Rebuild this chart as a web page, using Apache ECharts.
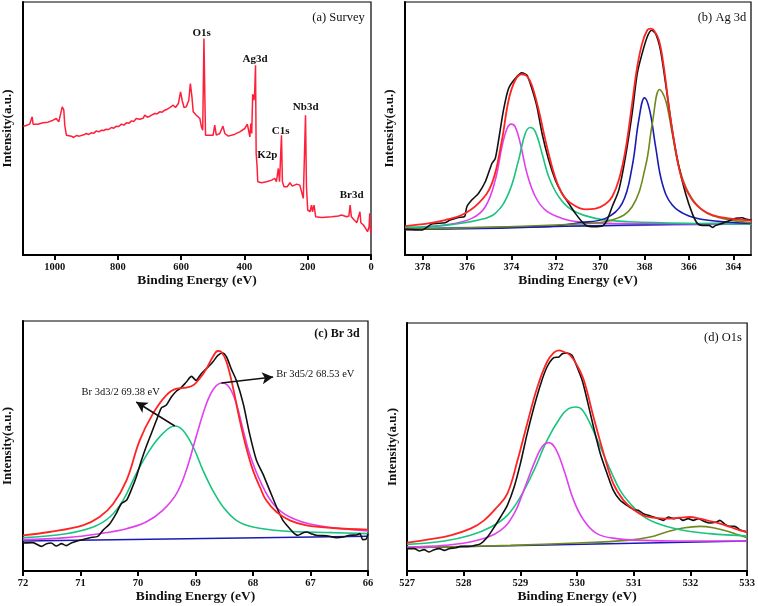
<!DOCTYPE html>
<html>
<head>
<meta charset="utf-8">
<script src="https://cdn.jsdelivr.net/npm/echarts@6/dist/echarts.min.js"></script>
<style>html,body{margin:0;padding:0;background:#fff;}#c{width:758px;height:606px;}</style>
</head>
<body>
<div id="c"></div>
<script>
// ---------- (a) Survey ----------
const surveyTicks = [0, 200, 400, 600, 800, 1000];
const surveyData = [
[1099,387],[1090,389],[1079,393],[1074,395],[1071,415],[1068,393],[1053,393],[1037,397],[1021,399],[1005,405],
[995,410],[987,400],[981,405],[976,445],[971,435],[968,390],[963,360],[958,355],[947,357],[940,353],[931,359],[922,357],[916,363],
[908,361],[900,365],[892,362],[884,367],[876,366],[868,373],[860,370],[852,375],[845,374],[837,378],[829,377],[821,383],[813,381],[805,387],[797,386],[789,393],
[781,390],[773,397],[765,396],[757,403],[750,401],[742,410],[736,415],[731,408],[726,413],[720,411],[715,420],[707,414],[699,417],[692,421],[684,425],[676,424],[668,430],
[660,429],[652,435],[644,438],[636,443],[630,441],[625,450],[618,443],[609,455],[602,490],[597,465],[591,443],[584,445],[576,465],
[571,515],[566,475],[562,430],[552,420],[541,410],[536,385],[532,375],[528,650],[525,465],[523,360],[510,360],[499,360],
[494,390],[489,360],[478,365],[468,387],[462,365],[451,357],[430,363],[415,370],[399,380],[391,393],[386,370],[383,355],
[380,395],[377,365],[374,483],[370,465],[368,480],[365,570],[363,305],[360,265],[358,220],[346,217],[330,220],[314,225],
[304,230],[299,220],[293,260],[289,220],[286,220],[283,360],[280,220],[275,205],[265,205],[256,217],[249,207],[235,213],
[225,210],[219,215],[214,170],[211,165],[207,420],[204,205],[200,135],[193,130],[188,150],[185,130],[180,150],[175,115],
[156,113],[124,115],[103,117],[93,120],[77,115],[70,117],[66,150],[62,115],[53,105],[45,97],[40,100],[35,130],[32,97],
[24,90],[17,80],[11,70],[6,85],[4,125],[2,75],[0,65]
];
const surveyPeaks = [
  ['O1s', 201.7, 32.7], ['Ag3d', 255, 59.3], ['Nb3d', 305.7, 107.3],
  ['C1s', 280.7, 131], ['K2p', 267.3, 155.3], ['Br3d', 351.7, 195]
];

// ---------- (b) Ag 3d ----------
const agTicks = [364, 366, 368, 370, 372, 374, 376, 378];
const agRaw = [
[378.80,77],[378.05,75],[377.59,93],[376.99,97],[376.77,105],[376.39,113],[376.12,115],[376.01,145],[375.79,165],[375.49,185],
[375.18,220],[374.88,275],[374.73,290],[374.58,345],[374.36,435],[374.13,500],[373.83,530],[373.53,547],[373.30,540],[373.08,500],
[372.85,445],[372.62,365],[372.32,285],[372.02,225],[371.72,185],[371.42,155],[371.12,125],[370.82,100],[370.59,87],[370.29,85],
[369.91,87],[369.69,105],[369.46,145],[369.16,195],[368.86,295],[368.56,425],[368.33,545],[368.11,605],[367.88,655],[367.68,675],
[367.50,665],[367.28,615],[367.05,515],[366.75,375],[366.45,265],[366.15,185],[365.85,125],[365.62,95],[365.39,89],[365.09,89],
[364.94,83],[364.79,89],[364.49,95],[364.19,103],[363.89,110],[363.59,112],[363.44,108],[363.17,105]
];
const agFit = [
[378.80,87],[377.74,95],[376.99,105],[376.24,120],[375.49,155],[374.88,215],[374.43,345],[374.13,465],[373.83,525],[373.53,543],
[373.30,537],[373.08,510],[372.77,435],[372.47,345],[372.17,265],[371.87,205],[371.57,170],[371.12,147],[370.67,137],[370.21,139],
[369.76,153],[369.46,175],[369.16,225],[368.86,315],[368.56,455],[368.33,565],[368.11,635],[367.88,675],[367.73,680],[367.58,675],
[367.35,645],[367.13,565],[366.90,445],[366.60,315],[366.30,225],[365.85,165],[365.39,135],[364.94,120],[364.19,110],[363.17,103]
];
const agPeakA = [ // magenta 374.1
[378.80,80],[376.99,90],[375.79,110],[375.18,145],[374.73,225],[374.43,325],[374.20,380],[374.01,393],[373.83,385],[373.60,335],
[373.30,245],[372.92,175],[372.47,135],[371.72,110],[370.97,100],[369.46,95],[363.17,93]
];
const agPeakB = [ // green 373.2
[378.80,83],[376.99,89],[375.49,105],[374.73,125],[374.13,185],[373.68,285],[373.38,365],[373.15,383],[372.92,370],[372.62,305],
[372.32,235],[371.87,175],[371.27,135],[370.21,110],[368.71,100],[363.17,93]
];
const agPeakC = [ // blue 368.0
[378.80,77],[372.47,85],[370.97,97],[369.76,110],[369.01,155],[368.56,265],[368.26,405],[368.00,472],[367.77,435],[367.50,325],
[367.20,215],[366.75,150],[366.00,117],[364.94,103],[363.17,95]
];
const agPeakD = [ // olive 367.3
[378.80,77],[370.97,93],[369.46,105],[368.56,145],[367.96,265],[367.65,395],[367.32,497],[367.05,465],[366.75,365],[366.45,265],
[366.00,185],[365.39,135],[364.49,110],[363.17,97]
];
const agBase = [[378.80,77],[363.17,97]];
const agBase2 = [[378.80,80],[363.17,93]];

// ---------- (c) Br 3d ----------
const brTicks = [66, 67, 68, 69, 70, 71, 72];
const brRaw = [
[72.00,84],[71.83,85],[71.68,74],[71.59,82],[71.51,84],[71.42,75],[71.33,82],[71.25,76],[71.16,84],[71.01,92],
[70.84,100],[70.70,104],[70.61,122],[70.49,142],[70.38,172],[70.29,202],[70.20,212],[70.12,242],[70.03,282],[69.94,332],
[69.86,372],[69.77,412],[69.68,452],[69.59,490],[69.51,497],[69.42,522],[69.33,540],[69.25,550],[69.16,567],[69.07,584],
[68.99,572],[68.90,592],[68.81,607],[68.70,627],[68.61,647],[68.53,654],[68.46,642],[68.38,607],[68.29,572],[68.17,502],
[68.06,412],[67.94,332],[67.83,292],[67.71,242],[67.59,192],[67.48,152],[67.36,127],[67.28,112],[67.22,107],[67.16,112],
[67.07,117],[66.99,112],[66.90,107],[66.78,106],[66.67,104],[66.55,100],[66.43,102],[66.32,107],[66.20,108],[66.14,112],
[66.09,94],[66.03,96],[66.00,112]
];
const brFit = [
[72.00,107],[71.54,117],[70.96,137],[70.67,162],[70.43,202],[70.20,272],[69.97,392],[69.74,472],[69.51,527],[69.33,547],
[69.16,550],[69.04,557],[68.93,577],[68.81,607],[68.70,642],[68.61,660],[68.55,657],[68.46,627],[68.35,552],[68.23,452],
[68.12,372],[68.00,302],[67.88,252],[67.77,212],[67.59,177],[67.36,152],[67.07,137],[66.61,129],[66.00,124]
];
const br32 = [ // green 69.38
[72.00,100],[71.25,112],[70.78,132],[70.49,162],[70.26,212],[70.03,292],[69.80,362],[69.57,412],[69.36,435],[69.22,422],
[69.04,372],[68.87,302],[68.70,242],[68.52,192],[68.29,152],[68.00,132],[67.48,120],[66.61,115],[66.00,112]
];
const br52 = [ // magenta 68.53
[72.00,94],[71.25,100],[70.67,112],[70.20,127],[69.86,147],[69.57,182],[69.33,232],[69.16,302],[68.99,402],[68.81,502],
[68.67,550],[68.53,564],[68.41,550],[68.29,502],[68.17,422],[68.06,352],[67.88,272],[67.65,202],[67.36,162],[66.90,137],[66.00,120]
];
const brBase = [[72.00,90],[66.00,104]];
const brArrows = [
  {from: [69.36, 435], to: [70.03, 507]},
  {from: [68.55, 564], to: [67.65, 582]}
];

// ---------- (d) O1s ----------
const oTicks = [527, 528, 529, 530, 531, 532, 533];
const oRaw = [
[527.00,67],[527.13,67],[527.22,60],[527.30,64],[527.39,57],[527.48,64],[527.57,67],[527.66,62],[527.74,67],[527.86,70],
[527.95,74],[528.07,74],[528.18,76],[528.30,82],[528.42,102],[528.54,132],[528.65,162],[528.77,197],[528.89,252],[529.00,322],
[529.12,412],[529.24,492],[529.36,562],[529.47,612],[529.59,640],[529.68,642],[529.74,652],[529.82,654],[529.91,647],[530.00,612],
[530.09,572],[530.18,512],[530.29,432],[530.41,352],[530.53,292],[530.64,242],[530.76,212],[530.88,197],[531.00,184],[531.08,182],
[531.17,172],[531.26,167],[531.35,162],[531.44,157],[531.52,152],[531.61,162],[531.70,157],[531.79,160],[531.87,152],[531.96,157],
[532.05,152],[532.14,157],[532.23,150],[532.34,144],[532.46,147],[532.52,152],[532.61,140],[532.70,134],[532.78,134],[532.87,124],[533.00,117]
];
const oFit = [
[527.00,85],[527.36,94],[527.77,107],[528.12,127],[528.36,152],[528.59,192],[528.77,232],[528.95,332],[529.12,442],[529.30,552],
[529.47,627],[529.59,655],[529.68,662],[529.77,657],[529.88,647],[530.00,617],[530.12,572],[530.29,462],[530.47,352],[530.64,262],
[530.82,212],[531.00,184],[531.17,167],[531.35,160],[531.58,157],[531.82,160],[531.99,162],[532.17,157],[532.34,150],[532.52,142],
[532.70,132],[532.87,122],[533.00,117]
];
const oPeakA = [ // green 530.0
[527.00,80],[527.66,90],[528.12,107],[528.48,132],[528.77,167],[529.00,222],[529.24,302],[529.47,392],[529.71,462],[529.85,487],
[529.98,492],[530.09,484],[530.23,442],[530.41,372],[530.59,302],[530.76,242],[530.94,202],[531.17,164],[531.46,140],[531.87,122],
[532.34,112],[533.00,105]
];
const oPeakB = [ // magenta 529.5
[527.00,72],[527.66,77],[528.24,92],[528.65,122],[528.89,172],[529.06,242],[529.24,322],[529.38,372],[529.50,385],[529.62,367],
[529.77,302],[529.94,212],[530.12,152],[530.35,112],[530.70,97],[531.17,92],[531.76,90],[533.00,90]
];
const oPeakC = [ // olive 532.1
[527.00,70],[528.83,77],[530.00,84],[530.88,92],[531.29,102],[531.58,117],[531.87,129],[532.17,134],[532.40,130],[532.64,120],
[532.81,110],[533.00,100]
];
const oBase = [[527.00,70],[533.00,90]];

// ---------- build ----------
const SERIF = '"Liberation Serif","Times New Roman",serif';
const grids = [
  {left: 22, top: 2, width: 349, height: 253},
  {left: 405, top: 2, width: 346, height: 253},
  {left: 23, top: 321, width: 345, height: 250},
  {left: 407, top: 323, width: 342, height: 248}
].map(g => Object.assign(g, {show: true, borderColor: '#000', borderWidth: 1.2, backgroundColor: 'transparent'}));

function xAx(i, min, max, inverse, ticks) {
  return {
    type: 'value', gridIndex: i, min: min, max: max, inverse: inverse,
    name: 'Binding Energy (eV)', nameLocation: 'middle', nameGap: 19,
    nameTextStyle: {fontFamily: SERIF, fontWeight: 'bold', fontSize: 13.5, color: '#111'},
    axisLine: {show: true, onZero: false, lineStyle: {color: '#000', width: 2}},
    axisTick: {show: true, length: 5, customValues: ticks, lineStyle: {color: '#000', width: 2}},
    axisLabel: {show: true, customValues: ticks, margin: 7, formatter: v => String(v),
      fontFamily: SERIF, fontWeight: 'bold', fontSize: 10.5, color: '#111'},
    splitLine: {show: false}
  };
}
function yAx(i, max, gap) {
  return {
    type: 'value', gridIndex: i, min: 0, max: max,
    name: 'Intensity(a.u.)', nameLocation: 'middle', nameGap: gap, nameRotate: 90,
    nameTextStyle: {fontFamily: SERIF, fontWeight: 'bold', fontSize: 13, color: '#111'},
    axisLine: {show: true, onZero: false, lineStyle: {color: '#000', width: 2}},
    axisTick: {show: false}, axisLabel: {show: false}, splitLine: {show: false}
  };
}
function line(data, i, color, width, smooth, extra) {
  return Object.assign({
    type: 'line', xAxisIndex: i, yAxisIndex: i, data: data, showSymbol: false, symbol: 'none',
    smooth: smooth, lineStyle: {color: color, width: width}, silent: true, animation: false, z: 3
  }, extra || {});
}

const RED = '#ff2424', MAG = '#e040ee', GRN = '#18c47f', BLU = '#1a1ab4', OLV = '#6f8a1c', BLK = '#111';

const series = [
  line(surveyData, 0, '#ff1f3a', 1.5, false),
  // b
  line(agBase2, 1, '#6c9ad6', 1.5, false),
  line(agBase, 1, BLU, 1.5, false),
  line(agPeakA, 1, MAG, 1.6, 0.4),
  line(agPeakB, 1, GRN, 1.6, 0.4),
  line(agPeakC, 1, BLU, 1.6, 0.4),
  line(agPeakD, 1, OLV, 1.6, 0.4),
  line(agRaw, 1, BLK, 1.6, 0.25),
  line(agFit, 1, RED, 1.8, 0.4),
  // c
  line(brBase, 2, BLU, 1.5, false),
  line(br32, 2, GRN, 1.6, 0.4),
  line(br52, 2, MAG, 1.6, 0.4),
  line(brRaw, 2, BLK, 1.6, 0.25),
  line(brFit, 2, RED, 1.8, 0.4, {
    markLine: {
      silent: true, symbol: ['none', 'arrow'], symbolSize: [9, 11], animation: false,
      label: {show: false},
      lineStyle: {color: '#111', width: 1.5, type: 'solid'},
      data: brArrows.map(a => [{coord: a.from}, {coord: a.to}])
    }
  }),
  // d
  line(oBase, 3, BLU, 1.5, false),
  line(oPeakC, 3, OLV, 1.6, 0.4),
  line(oPeakA, 3, GRN, 1.6, 0.4),
  line(oPeakB, 3, MAG, 1.6, 0.4),
  line(oRaw, 3, BLK, 1.6, 0.25),
  line(oFit, 3, RED, 1.8, 0.4)
];

function txt(text, x, y, size, bold, align) {
  return {type: 'text', x: x, y: y, z: 100, silent: true,
    style: {text: text, fontFamily: SERIF, fontSize: size, fontWeight: bold ? 'bold' : 'normal',
      fill: '#111', align: align || 'center', verticalAlign: 'middle'}};
}
const graphics = [
  txt('(a) Survey', 338.5, 18, 12.5, false),
  txt('(b) Ag 3d', 722, 18, 12.5, false),
  txt('(c) Br 3d', 337, 334, 12, true),
  txt('(d) O1s', 723, 338, 12.5, false),
  txt('Br 3d3/2 69.38 eV', 120.7, 392.3, 10.5, false),
  txt('Br 3d5/2 68.53 eV', 315.3, 374, 10.5, false)
].concat(surveyPeaks.map(p => txt(p[0], p[1], p[2], 11, true)));

const chart = echarts.init(document.getElementById('c'), null, {renderer: 'canvas'});
chart.setOption({
  animation: false,
  backgroundColor: '#fff',
  grid: grids,
  xAxis: [
    xAx(0, 0, 1100, true, surveyTicks),
    xAx(1, 363.2, 378.8, true, agTicks),
    xAx(2, 66, 72, true, brTicks),
    xAx(3, 527, 533, false, oTicks)
  ],
  yAxis: [yAx(0, 760, 9), yAx(1, 760, 9), yAx(2, 750, 9), yAx(3, 744, 8)],
  series: series,
  graphic: graphics
});
</script>
</body>
</html>
